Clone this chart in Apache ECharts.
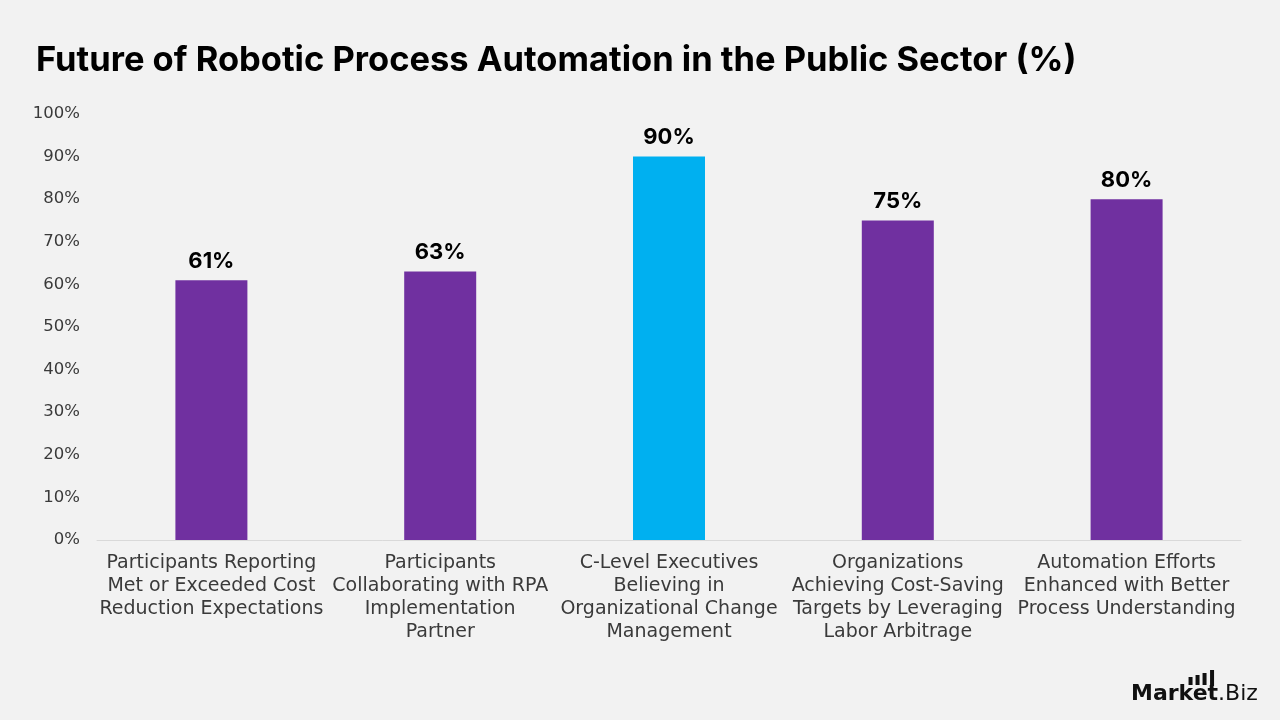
<!DOCTYPE html>
<html><head><meta charset="utf-8">
<script src="https://cdn.jsdelivr.net/npm/echarts@6/dist/echarts.min.js"></script>
<style>html,body{margin:0;padding:0;background:#f2f2f2}#c{width:1280px;height:720px}</style>
</head><body><div id="c"></div>
<script>
const categories = [
  "Participants Reporting\nMet or Exceeded Cost\nReduction Expectations",
  "Participants\nCollaborating with RPA\nImplementation\nPartner",
  "C-Level Executives\nBelieving in\nOrganizational Change\nManagement",
  "Organizations\nAchieving Cost-Saving\nTargets by Leveraging\nLabor Arbitrage",
  "Automation Efforts\nEnhanced with Better\nProcess Understanding"
];
const values = [61, 63, 90, 75, 80];
const barColors = ["#7030a0", "#7030a0", "#00b0f0", "#7030a0", "#7030a0"];
const titleText = "Future of Robotic Process Automation in the Public Sector (%)";

const chart = echarts.init(document.getElementById('c'));
const FONT = "Inter, 'Open Sans', sans-serif";
const AFONT = "'DejaVu Sans', sans-serif";

// logo layout
const cv = document.createElement('canvas').getContext('2d');
const logoBold = "bold 22px " + AFONT;
const logoReg = "22px " + AFONT;
cv.font = logoBold;
const wMarke = cv.measureText('Marke').width;
const wMarket = cv.measureText('Market').width;
const lx = 1131, ly = 683;
const tx = lx + wMarke; // start of 't'

chart.setOption({
  backgroundColor: '#f2f2f2',
  title: {
    text: titleText, left: 31, top: 38,
    textStyle: {fontFamily: FONT, fontWeight: 'bold', fontSize: 34.5, color: '#000'}
  },
  grid: {left: 97, right: 39, top: 114, bottom: 180, containLabel: false},
  xAxis: {
    type: 'category', data: categories,
    axisLine: {lineStyle: {color: '#d9d9d9', width: 1}},
    axisTick: {show: false},
    axisLabel: {interval: 0, fontFamily: AFONT, fontSize: 19, color: '#3a3a3a', lineHeight: 23, margin: 12}
  },
  yAxis: {
    type: 'value', min: 0, max: 100, interval: 10,
    axisLine: {show: false}, axisTick: {show: false}, splitLine: {show: false},
    axisLabel: {formatter: '{value}%', fontFamily: AFONT, fontSize: 16.5, color: '#3a3a3a', margin: 17}
  },
  series: [{
    type: 'bar', barWidth: 72,
    data: values.map((v, i) => ({value: v, itemStyle: {color: barColors[i]}})),
    label: {show: true, position: 'top', distance: 8, formatter: '{c}%',
      fontFamily: FONT, fontWeight: 'bold', fontSize: 22, color: '#000'}
  }],
  graphic: [
    {type: 'text', x: lx, y: ly, style: {text: 'Market', font: logoBold, fill: '#111'}},
    {type: 'text', x: lx + wMarket, y: ly, style: {text: '.Biz', font: logoReg, fill: '#111'}},
    {type: 'rect', shape: {x: tx - 19, y: 677, width: 4, height: 8}, style: {fill: '#111'}},
    {type: 'rect', shape: {x: tx - 12, y: 675, width: 4, height: 10}, style: {fill: '#111'}},
    {type: 'rect', shape: {x: tx - 5, y: 673, width: 4, height: 12}, style: {fill: '#111'}},
    {type: 'rect', shape: {x: tx + 2.5, y: 670, width: 4, height: 16}, style: {fill: '#111'}}
  ]
});
</script></body></html>
